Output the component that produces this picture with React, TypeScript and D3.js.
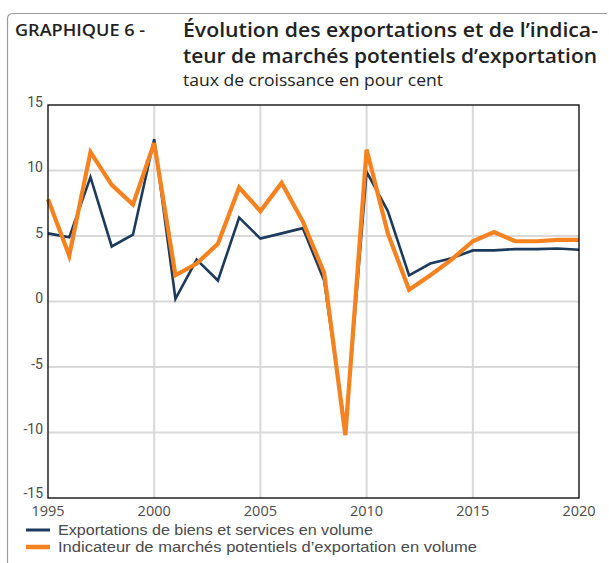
import React from "react";
import * as d3 from "d3";

const years = d3.range(1995, 2021);
const exportsVol = [5.2, 4.9, 9.5, 4.2, 5.1, 12.4, 0.2, 3.2, 1.6, 6.4, 4.8, 5.2, 5.6, 1.6, -9.8, 9.9, 6.9, 2.0, 2.9, 3.3, 3.9, 3.9, 4.0, 4.0, 4.05, 3.95];
const marketInd = [7.8, 3.5, 11.4, 8.9, 7.4, 12.1, 2.0, 2.9, 4.4, 8.7, 6.9, 9.05, 6.1, 2.2, -10.2, 11.6, 5.2, 0.9, 2.0, 3.2, 4.6, 5.3, 4.6, 4.6, 4.7, 4.7];
const yTicks = [15, 10, 5, 0, -5, -10, -15];
const xTicks = [1995, 2000, 2005, 2010, 2015, 2020];
const legendLabels = [
  "Exportations de biens et services en volume",
  "Indicateur de marchés potentiels d\u2019exportation en volume",
];

const W = 609;
const H = 563;
const left = 48, right = 579, top = 105, bottom = 498;
const NAVY = "#1c3a5b";
const ORANGE = "#f5821f";
const GRID = "#d9d9d9";
const TEXT = "#4a4a4a";

export default function App() {
  const x = d3.scaleLinear().domain([1995, 2020]).range([left, right]);
  const y = d3.scaleLinear().domain([-15, 15]).range([bottom, top]);
  const line = (vals: number[]) =>
    d3.line<number>().x((_, i) => x(years[i])).y((d) => y(d))(vals) || "";

  return (
    <svg width={W} height={H} style={{ position: "absolute", left: 0, top: 0, background: "#fff" }}
      fontFamily="'Open Sans', 'DejaVu Sans', sans-serif">
      {/* frame */}
      <path d={`M7.5,${H} L7.5,19 Q7.5,13.5 13,13.5 L607,13.5`} fill="none" stroke="#9a9a9a" strokeWidth={1.2} />
      {/* titles */}
      <text x={15} y={36} fontSize={16} fontWeight={600} fill="#222" textLength={130} lengthAdjust="spacingAndGlyphs">GRAPHIQUE 6 -</text>
      <text x={183} y={37} fontSize={20.5} fontWeight={600} fill="#222" textLength={415} lengthAdjust="spacingAndGlyphs">
        Évolution des exportations et de l’indica-
      </text>
      <text x={183} y={63} fontSize={20.5} fontWeight={600} fill="#222" textLength={414} lengthAdjust="spacingAndGlyphs">
        teur de marchés potentiels d’exportation
      </text>
      <text x={183} y={86} fontSize={16.5} fill="#222" textLength={260} lengthAdjust="spacingAndGlyphs">taux de croissance en pour cent</text>

      {/* grid */}
      {yTicks.filter((t) => t !== 15 && t !== -15).map((t) => (
        <line key={"gy" + t} x1={left} x2={right} y1={y(t)} y2={y(t)} stroke={GRID} strokeWidth={2} />
      ))}
      {xTicks.filter((t) => t !== 1995 && t !== 2020).map((t) => (
        <line key={"gx" + t} x1={x(t)} x2={x(t)} y1={top} y2={bottom} stroke={GRID} strokeWidth={2} />
      ))}

      {/* lines */}
      <path d={line(exportsVol)} fill="none" stroke={NAVY} strokeWidth={2.6} strokeLinejoin="miter" />
      <path d={line(marketInd)} fill="none" stroke={ORANGE} strokeWidth={4.2} strokeLinejoin="miter" />

      {/* box */}
      <rect x={left} y={top} width={right - left} height={bottom - top} fill="none" stroke="#000" strokeWidth={1.3} />

      {/* y tick labels */}
      {yTicks.map((t) => (
        <text key={"yl" + t} x={43} y={y(t) + (t === 15 ? 2 : t === -15 ? 0 : 1.5)} textAnchor="end" fontSize={14}
          fill={TEXT} fontFamily="Roboto, sans-serif">{t}</text>
      ))}
      {/* x tick labels */}
      {xTicks.map((t) => (
        <text key={"xl" + t} x={x(t)} y={516} textAnchor="middle" fontSize={14.5}
          fill={TEXT}>{t}</text>
      ))}

      {/* legend */}
      <line x1={26} x2={50} y1={530} y2={530} stroke={NAVY} strokeWidth={3} />
      <line x1={26} x2={50} y1={547} y2={547} stroke={ORANGE} strokeWidth={4.5} />
      <text x={58} y={535} fontSize={14.5} fill={TEXT} fontFamily="'Liberation Sans', sans-serif" textLength={315} lengthAdjust="spacingAndGlyphs">{legendLabels[0]}</text>
      <text x={58} y={552} fontSize={14.5} fill={TEXT} fontFamily="'Liberation Sans', sans-serif" textLength={419} lengthAdjust="spacingAndGlyphs">{legendLabels[1]}</text>
    </svg>
  );
}
